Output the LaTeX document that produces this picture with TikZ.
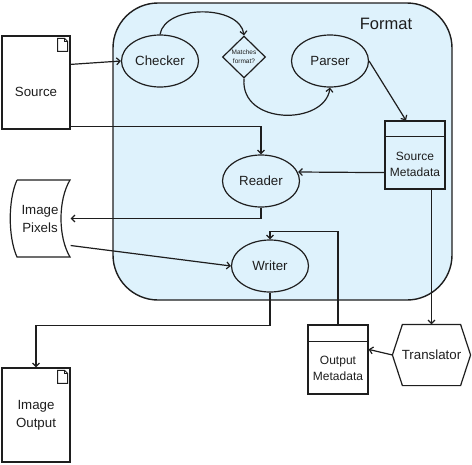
\documentclass[tikz,border=0pt]{standalone}
\usepackage{fontspec}
\setmainfont{Liberation Sans}
\usetikzlibrary{shapes.geometric,arrows.meta,calc}
\definecolor{fmtfill}{RGB}{222,242,252}
\definecolor{ink}{RGB}{30,30,30}
\newcommand\docIcon[1]{%
  \draw[line width=0.9pt] ($(#1.north east)+(-13,3)$) -- ++(7,0) -- ++(3,3) -- ++(0,10) -- ++(-10,0) -- cycle;
  \draw[line width=0.9pt] ($(#1.north east)+(-6,3)$) -- ++(0,3) -- ++(3,0);}
\begin{document}
\begin{tikzpicture}[x=1pt,y=-1pt,line width=1.2pt,color=ink,
  arr/.style={-{Straight Barb[length=3.5pt,width=7pt]}},
  txt/.style={font=\fontsize{13.3}{18}\selectfont,align=center},
  proc/.style={ellipse,draw,minimum width=77pt,minimum height=52pt,inner sep=0pt,txt},
  docbox/.style={draw,minimum width=68pt,inner sep=0pt,txt},
  meta/.style={font=\fontsize{12}{16}\selectfont,align=center},
  plainbox/.style={draw,minimum width=60pt,inner sep=0pt}]
\useasboundingbox (0,0) rectangle (472,464);

% container
\node[draw,fill=fmtfill,rounded corners=45pt,minimum width=339pt,minimum height=297pt,line width=1.4pt] (Fmt) at (282.5,151.5) {};
\node[font=\fontsize{16.5}{19}\selectfont] (FmtLbl) at (386,24) {Format};

% documents
\node[docbox,minimum height=93pt,label={[txt,yshift=-9.5pt]center:Source}] (Src) at (36,82.5) {};
\docIcon{Src}
\node[docbox,minimum height=94pt] (IO) at (36,415) {Image\\Output};
\docIcon{IO}

% image pixels
\node[minimum width=60pt,minimum height=77pt,inner sep=0pt,txt] (IP) at (40,218.5) {Image\\Pixels};
\draw (17,180) -- (70,180) .. controls (58,200) and (58,237) .. (70,257) -- (17,257) .. controls (8,237) and (8,200) .. (17,180);

% processes
\node[proc] (Chk) at (160,61) {Checker};
\node[diamond,draw,inner sep=0pt,minimum width=43pt,minimum height=42pt,align=center,font=\fontsize{6.5}{9}\selectfont] (Dia) at (244,57) {Matches\\format?};
\node[proc] (Prs) at (330,61) {Parser};
\node[proc] (Rdr) at (261,181) {Reader};
\node[proc] (Wr) at (270,266) {Writer};

% metadata boxes
\node[plainbox,minimum height=68pt] (SM) at (415,155) {};
\draw ($(SM.north west)+(0,16)$) -- ($(SM.north east)+(0,16)$);
\node[meta] (SMt) at (415,164) {Source\\Metadata};
\node[plainbox,minimum height=69pt] (OM) at (338,359.5) {};
\draw ($(OM.north west)+(0,17)$) -- ($(OM.north east)+(0,17)$);
\node[meta] (OMt) at (338,368) {Output\\Metadata};

% translator
\node[minimum width=77pt,minimum height=60pt,inner sep=0pt,txt] (Tr) at (431.5,355) {Translator};
\draw (Tr.west) -- ($(Tr.north west)+(10,0)$) -- ($(Tr.north east)+(-10,0)$) -- (Tr.east) -- ($(Tr.south east)+(-10,0)$) -- ($(Tr.south west)+(10,0)$) -- cycle;

% connectors
\draw[arr] ($(Src.north east)+(0,29)$) -- (Chk.west);
\draw[arr] (Chk.north) .. controls +(5,-30) and +(-4,-31) .. (Dia.north);
\draw[arr] (Dia.south) .. controls +(-4,47) and +(-5,38) .. (Prs.south);
\draw[arr] (Prs.east) -- ($(SM.north)+(-9,0)$);
\draw[arr] ($(Src.south east)+(0,-3)$) -| (Rdr.north);
\draw[arr] ($(SM.south west)+(0,-17)$) -- ($(Rdr.east)+(-2,-9)$);
\draw[arr] (Rdr.south) |- (IP.east);
\draw[arr] ($(IP.east)+(0,27)$) -- (Wr.west);
\draw[arr] (OM.north) -- ++(0,-93) -| (Wr.north);
\draw[arr] (Wr.south) -- ++(0,33) -| (IO.north);
\draw[arr] (SM.south -| Tr.north) -- (Tr.north);
\draw[arr] (Tr.west) -- ($(OM.north east)+(0,25)$);
\end{tikzpicture}
\end{document}
